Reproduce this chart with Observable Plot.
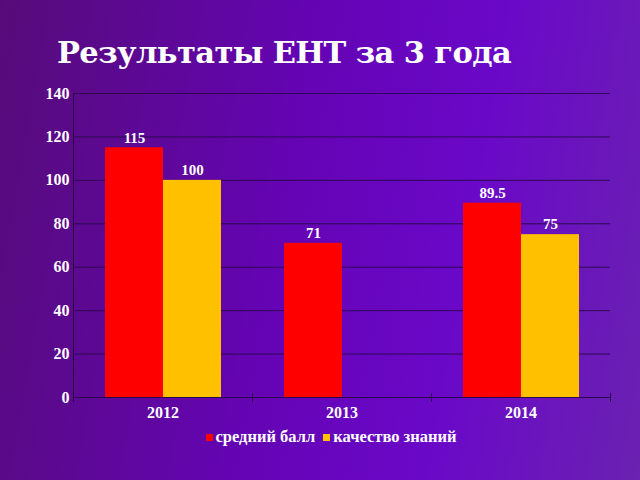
<!DOCTYPE html>
<html>
<head>
<meta charset="utf-8">
<script src="https://cdn.jsdelivr.net/npm/d3@7"></script>
<script src="https://cdn.jsdelivr.net/npm/@observablehq/plot@0.6"></script>
<style>
  html, body { margin: 0; padding: 0; }
  body {
    width: 640px; height: 480px; overflow: hidden;
    background: linear-gradient(100deg, #560c78 0%, #6404b4 45%, #6a08c8 70%, #6a22b0 100%);
    font-family: "Liberation Serif", serif;
  }
  #title {
    height: 80px; box-sizing: border-box; padding: 35px 0 0 57px;
    font-family: "DejaVu Serif", serif; font-weight: bold; font-size: 30.5px;
    color: #fff; line-height: 34px; letter-spacing: -0.6px;
  }
  #legend {
    display: flex; justify-content: center; align-items: center; gap: 8px;
    color: #fff; font-weight: bold; font-size: 16.5px; margin-top: 2px; padding-left: 22px;
  }
  #legend span.sw { display: inline-block; width: 7px; height: 7px; margin-right: 3px; }
  #legend .item { display: flex; align-items: center; }
</style>
</head>
<body>
<div id="title">Результаты ЕНТ за 3 года</div>
<div id="chart"></div>
<div id="legend"></div>
<script>
const years = ["2012", "2013", "2014"];
const seriesNames = ["средний балл", "качество знаний"];
const avgScore = [115, 71, 89.5];
const quality = [100, null, 75];
const seriesColors = ["#ff0000", "#ffc000"];
const yTicks = [0, 20, 40, 60, 80, 100, 120, 140];

const data = [];
years.forEach((y, i) => {
  if (avgScore[i] != null) data.push({year: y, series: seriesNames[0], value: avgScore[i]});
  if (quality[i] != null) data.push({year: y, series: seriesNames[1], value: quality[i]});
});

const lineColor = "#2a0848";
const chart = Plot.plot({
  width: 640,
  height: 345,
  marginTop: 13,
  marginBottom: 28,
  marginLeft: 73,
  marginRight: 30,
  style: {background: "transparent", color: "#fff", fontFamily: "Liberation Serif, serif"},
  fx: {domain: years, padding: 0, label: null},
  x: {domain: seriesNames, paddingInner: 0, paddingOuter: 0.53, axis: null},
  y: {domain: [0, 140], label: null},
  color: {domain: seriesNames, range: seriesColors},
  marks: [
    Plot.gridY(yTicks, {stroke: lineColor, strokeOpacity: 0.9, strokeWidth: 1}),
    Plot.barY(data, {fx: "year", x: "series", y: "value", fill: "series"}),
    Plot.text(data, {fx: "year", x: "series", y: "value", text: d => String(d.value), dy: -10, fill: "#fff", fontWeight: "bold", fontSize: 15}),
    Plot.ruleY([0], {stroke: lineColor, strokeWidth: 1}),
    Plot.axisY(yTicks, {tickSize: 0, tickPadding: 4, fill: "#fff", fontWeight: "bold", fontSize: 16, label: null, textAnchor: "end"}),
    Plot.axisFx({anchor: "bottom", tickSize: 0, tickPadding: 9, fill: "#fff", fontWeight: "bold", fontSize: 16, label: null}),
    Plot.frame({anchor: "left", stroke: lineColor, facetAnchor: "left"}),
    Plot.frame({anchor: "left", stroke: lineColor, insetTop: 300, insetBottom: -4}),
    Plot.frame({anchor: "right", stroke: lineColor, insetTop: 300, insetBottom: -4, facetAnchor: "right"})
  ]
});
document.getElementById("chart").appendChild(chart);

const legend = document.getElementById("legend");
seriesNames.forEach((name, i) => {
  const item = document.createElement("div");
  item.className = "item";
  const sw = document.createElement("span");
  sw.className = "sw";
  sw.style.background = seriesColors[i];
  item.appendChild(sw);
  item.appendChild(document.createTextNode(name));
  legend.appendChild(item);
});
</script>
</body>
</html>
